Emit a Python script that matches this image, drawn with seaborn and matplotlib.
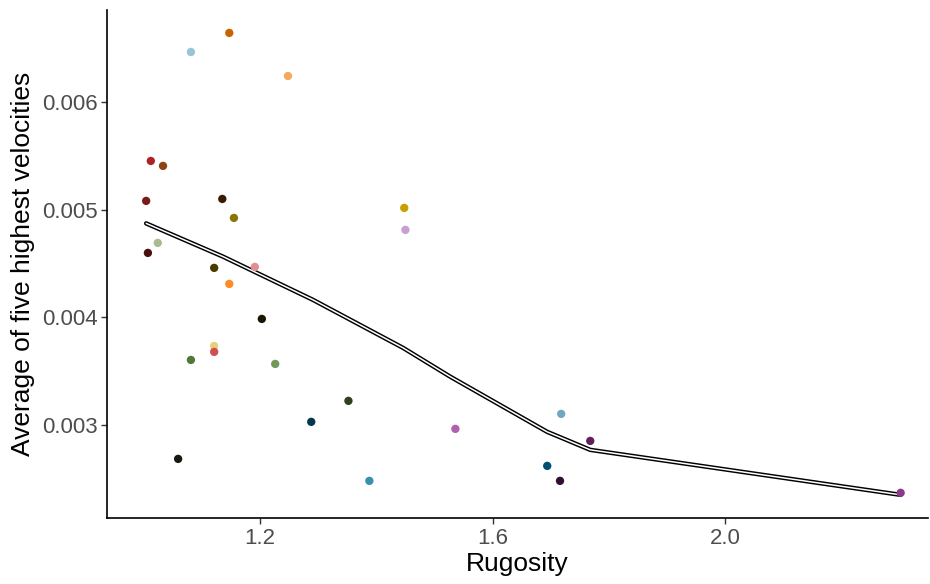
import numpy as np
import pandas as pd
import seaborn as sb
import matplotlib.pyplot as plt

# observed sites: rugosity vs mean of five highest velocities
rugosity = [1.081, 1.147, 1.248, 1.012, 1.033, 1.004, 1.135, 1.155, 1.448, 1.450,
            1.024, 1.007, 1.121, 1.191, 1.147, 1.203, 1.121, 1.121, 1.081, 1.226,
            1.352, 1.288, 1.059, 1.388, 1.536, 1.718, 1.694, 1.768, 1.716, 2.302]
velocity = [0.006464, 0.006641, 0.006241, 0.005452, 0.005406, 0.005081, 0.005099, 0.004923, 0.005016, 0.004812,
            0.004691, 0.004598, 0.004459, 0.004468, 0.004310, 0.003985, 0.003734, 0.003679, 0.003604, 0.003567,
            0.003224, 0.003029, 0.002685, 0.002481, 0.002964, 0.003103, 0.002620, 0.002852, 0.002481, 0.002370]
site_colors = ['#96c4d8', '#c86400', '#f4a95e', '#b22222', '#8b4513', '#7a1a1a', '#3a1a00', '#8b7500', '#c8a000', '#c8a0d0',
               '#a8bc90', '#4a1010', '#4a3a00', '#e09090', '#ff8c20', '#1a1400', '#e8d080', '#d05050', '#507838', '#709858',
               '#304020', '#003850', '#181810', '#3890b0', '#b060b0', '#70a8c0', '#005070', '#602060', '#301030', '#8a3a8a']
sites = ['s%02d' % i for i in range(len(rugosity))]

# fitted curve
fit_x = [1.004, 1.136, 1.291, 1.446, 1.527, 1.694, 1.718, 1.768, 2.302]
fit_y = [0.004872, 0.004564, 0.004162, 0.003716, 0.003449, 0.002936, 0.002882, 0.002769, 0.002351]

data = pd.DataFrame({'rugosity': rugosity, 'velocity': velocity, 'site': sites})
fit = pd.DataFrame({'x': fit_x, 'y': fit_y})

sb.set_style('ticks')
plt.rcParams['font.family'] = ['Liberation Sans', 'DejaVu Sans']

fig = plt.figure(figsize=(9.3, 5.84), dpi=100)
ax = fig.add_axes([0.1151, 0.113, 0.8827, 0.8699])

sb.lineplot(data=fit, x='x', y='y', color='black', lw=3.2, ax=ax, zorder=2)
sb.lineplot(data=fit, x='x', y='y', color='white', lw=1.1, ax=ax, zorder=3)
sb.scatterplot(data=data, x='rugosity', y='velocity', hue='site', palette=site_colors,
               s=36, edgecolor='none', legend=False, ax=ax, zorder=4)

ax.set_xlim(0.9367, 2.349)
ax.set_ylim(0.002136, 0.006854)
ax.set_xticks([1.2, 1.6, 2.0])
ax.set_xticklabels(['1.2', '1.6', '2.0'])
ax.set_yticks([0.003, 0.004, 0.005, 0.006])
ax.set_yticklabels(['0.003', '0.004', '0.005', '0.006'])
ax.set_xlabel('Rugosity', fontsize=19, color='black', labelpad=2)
ax.set_ylabel('Average of five highest velocities', fontsize=19, color='black', labelpad=5)
ax.tick_params(axis='both', labelsize=16, labelcolor='#4d4d4d', color='#333333',
               length=4, width=1, pad=3)
for side in ['top', 'right']:
    ax.spines[side].set_visible(False)
for side in ['left', 'bottom']:
    ax.spines[side].set_linewidth(1.2)
    ax.spines[side].set_color('black')

fig.savefig('out.png', dpi=100)
